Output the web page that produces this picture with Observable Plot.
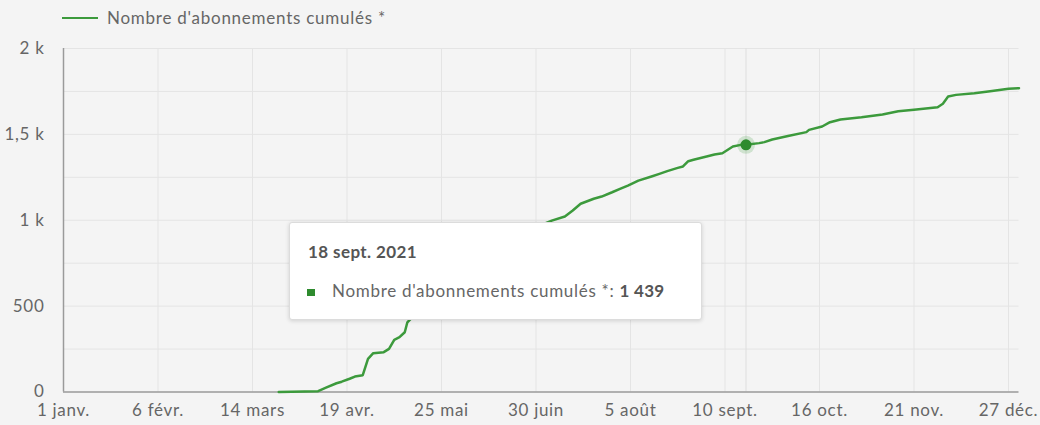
<!DOCTYPE html>
<html>
<head>
<meta charset="utf-8">
<script src="https://cdn.jsdelivr.net/npm/d3@7"></script>
<script src="https://cdn.jsdelivr.net/npm/@observablehq/plot@0.6"></script>
<style>
  html, body { margin: 0; padding: 0; background: #f4f4f4; }
  body { width: 1040px; height: 425px; overflow: hidden; font-family: Lato, "Open Sans", sans-serif; }
  #wrap { position: relative; width: 1040px; height: 425px; }
  #legend { height: 35px; position: relative; color: #666; font-size: 17px; letter-spacing: 0.75px; }
  #legend .sw { position: absolute; left: 62px; top: 17px; width: 36px; height: 2px; background: #3c9a3c; }
  #legend .lb { position: absolute; left: 107px; top: 7px; line-height: 22px; }
  #tip { position: absolute; left: 289px; top: 222px; width: 411px; height: 96px;
         background: #fff; border: 1px solid #dcdcdc; border-radius: 3px;
         box-shadow: 0 1px 4px rgba(0,0,0,0.15); color: #555; }
  #tip .t { position: absolute; left: 18px; top: 18px; font-weight: 700; color: #555; font-size: 17px; letter-spacing: 0.4px; }
  #tip .r { position: absolute; left: 42px; top: 57px; color: #666; font-size: 17px; letter-spacing: 0.7px; }
  #tip .r b { color: #555; font-weight: 700; letter-spacing: 0.3px; }
  #tip .m { position: absolute; left: 17px; top: 66px; width: 8px; height: 7px; background: #2e8b2e; }
</style>
</head>
<body>
<div id="wrap">
  <div id="legend"><div class="sw"></div><div class="lb">Nombre d'abonnements cumulés *</div></div>
  <div id="chart"></div>
  <div id="tip"><div class="t">18 sept. 2021</div><div class="m"></div><div class="r">Nombre d'abonnements cumulés *: <b>1 439</b></div></div>
</div>
<script>
// Series (hidden portion behind tooltip estimated)
const dates = [
  "2021-03-24","2021-04-08","2021-04-11","2021-04-15","2021-04-17","2021-04-20","2021-04-22","2021-04-25",
  "2021-04-27","2021-04-29","2021-05-03","2021-05-05","2021-05-07","2021-05-09","2021-05-11","2021-05-12",
  "2021-05-16","2021-05-21","2021-05-26","2021-05-31","2021-06-05","2021-06-10","2021-06-15","2021-06-20",
  "2021-06-25","2021-06-30","2021-07-06","2021-07-11","2021-07-14","2021-07-17","2021-07-22","2021-07-25",
  "2021-07-29","2021-08-01","2021-08-04","2021-08-08","2021-08-13","2021-08-16","2021-08-19","2021-08-23",
  "2021-08-25","2021-08-27","2021-08-29","2021-09-03","2021-09-06","2021-09-09","2021-09-13","2021-09-16",
  "2021-09-18","2021-09-23","2021-09-25","2021-09-28","2021-10-04","2021-10-11","2021-10-12","2021-10-17",
  "2021-10-20","2021-10-24","2021-11-01","2021-11-09","2021-11-15","2021-11-21","2021-11-30","2021-12-02",
  "2021-12-04","2021-12-07","2021-12-14","2021-12-20","2021-12-27","2021-12-31"
];
const values = [
  0,5,25,51,60,77,90,98,
  193,226,232,251,304,319,348,406,
  470,540,600,660,720,775,830,880,
  925,960,998,1022,1057,1096,1125,1138,
  1163,1183,1202,1231,1255,1270,1286,1305,
  1313,1344,1352,1371,1383,1390,1429,1439,
  1439,1449,1455,1470,1490,1513,1526,1546,
  1571,1587,1600,1616,1635,1643,1658,1678,
  1720,1730,1740,1751,1765,1769
];
const xTickDates = ["2021-01-01","2021-02-06","2021-03-14","2021-04-19","2021-05-25","2021-06-30","2021-08-05","2021-09-10","2021-10-16","2021-11-21","2021-12-27"];
const xTickLabels = ["1 janv.","6 févr.","14 mars","19 avr.","25 mai","30 juin","5 août","10 sept.","16 oct.","21 nov.","27 déc."];
const yTicks = [0, 500, 1000, 1500, 2000];
const yTickLabels = ["0", "500", "1 k", "1,5 k", "2 k"];
const yGrid = [250, 500, 750, 1000, 1250, 1500, 1750, 2000];
const hoverDate = "2021-09-18";
const hoverValue = 1439;

const data = dates.map((d, i) => ({date: new Date(d), value: values[i]}));
const xt = xTickDates.map(d => new Date(d));
const xLabel = new Map(xt.map((d, i) => [+d, xTickLabels[i]]));
const yLabel = new Map(yTicks.map((v, i) => [v, yTickLabels[i]]));
const green = "#3c9a3c";
const hover = [{date: new Date(hoverDate), value: hoverValue}];

const chart = Plot.plot({
  width: 1040,
  height: 390,
  marginTop: 13,
  marginBottom: 33.5,
  marginLeft: 63,
  marginRight: 21.5,
  style: {background: "#f4f4f4", fontFamily: "Lato, 'Open Sans', sans-serif", fontSize: "17px", color: "#666", overflow: "visible", letterSpacing: "0.7px"},
  x: {type: "utc", domain: [new Date("2021-01-01"), new Date("2021-12-31")]},
  y: {domain: [0, 2000]},
  marks: [
    Plot.gridY(yGrid, {stroke: "#e4e4e4", strokeOpacity: 1}),
    Plot.gridX(xt, {stroke: "#e4e4e4", strokeOpacity: 1}),
    Plot.ruleX(hover, {x: "date", stroke: "#dedede"}),
    Plot.ruleY([0], {stroke: "#9a9a9a", strokeWidth: 1.5}),
    Plot.ruleX([new Date("2021-01-01")], {stroke: "#9a9a9a", strokeWidth: 1.5}),
    Plot.lineY(data, {x: "date", y: "value", stroke: green, strokeWidth: 2.5, curve: "linear"}),
    Plot.dot(hover, {x: "date", y: "value", r: 9, fill: green, fillOpacity: 0.2, stroke: "none"}),
    Plot.dot(hover, {x: "date", y: "value", r: 5.5, fill: "#2e8b2e", stroke: "none"}),
    Plot.axisX(xt, {tickSize: 0, tickPadding: 12, tickFormat: d => xLabel.get(+d), fill: "#666", fontSize: 17}),
    Plot.axisY(yTicks, {tickSize: 0, tickPadding: 19, tickFormat: v => yLabel.get(v), fill: "#666", fontSize: 17, label: null})
  ]
});
document.getElementById("chart").appendChild(chart);
</script>
</body>
</html>
